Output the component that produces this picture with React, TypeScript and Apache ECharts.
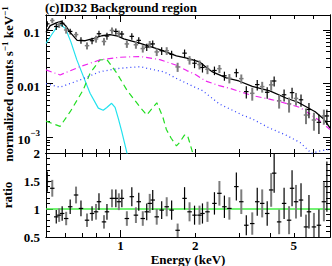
import React, { useEffect, useRef } from "react";
import * as echarts from "echarts";

const FONT = "'Liberation Serif', 'Times New Roman', serif";

// ---------- axis ranges ----------
const E_MIN = 0.5;
const E_MAX = 7;
const FLUX_MIN = 5.1e-4;
const FLUX_MAX = 0.19;
const RATIO_MIN = 0.5;
const RATIO_MAX = 2;

// ---------- ticks ----------
const xMajorTicks = [1];
const xMinorTicks = [0.6, 0.7, 0.8, 0.9, 2, 3, 4, 5, 6];
const xLabelTicks = [1, 2, 5];
const fluxMajorTicks = [0.001, 0.01, 0.1];
const fluxMinorTicks = [
  6e-4, 7e-4, 8e-4, 9e-4, 2e-3, 3e-3, 4e-3, 5e-3, 6e-3, 7e-3, 8e-3, 9e-3,
  0.02, 0.03, 0.04, 0.05, 0.06, 0.07, 0.08, 0.09,
];
const fluxLabelTicks = [0.1, 0.01, 0.001];
const ratioMajorTicks = [0.5, 1, 1.5, 2];
const ratioMinorTicks = [0.6, 0.7, 0.8, 0.9, 1.1, 1.2, 1.3, 1.4, 1.6, 1.7, 1.8, 1.9];
const ratioLabelTicks = [0.5, 1, 1.5, 2];

// ---------- data points (keV, counts/s/keV, ratio) ----------
const energy = [
  0.506, 0.53, 0.55, 0.565, 0.581, 0.603, 0.626, 0.661, 0.692, 0.732,
  0.767, 0.796, 0.818, 0.857, 0.881, 0.923, 0.957, 0.984, 1.012, 1.06,
  1.11, 1.153, 1.184, 1.229, 1.275, 1.311, 1.348, 1.399, 1.465, 1.535,
  1.607, 1.699, 1.812, 1.898, 1.988, 2.082, 2.14, 2.242, 2.392, 2.505,
  2.624, 2.748, 2.932, 3.07, 3.216, 3.399, 3.56, 3.728, 3.905, 4.052,
  4.166, 4.363, 4.569, 4.785, 4.92, 5.105, 5.347, 5.6, 5.757, 6.03,
  6.315, 6.614, 6.8,
];
const flux = [
  0.13, 0.15, 0.116, 0.126, 0.133, 0.1, 0.094, 0.082, 0.064, 0.051,
  0.063, 0.068, 0.085, 0.061, 0.077, 0.098, 0.094, 0.086, 0.084, 0.055,
  0.076, 0.053, 0.064, 0.045, 0.048, 0.054, 0.055, 0.039, 0.041, 0.041,
  0.035, 0.0205, 0.037, 0.0276, 0.024, 0.0227, 0.02, 0.0185, 0.0176, 0.019,
  0.014, 0.0126, 0.016, 0.0124, 0.0071, 0.0066, 0.0096, 0.0088, 0.0069, 0.0095,
  0.0112, 0.0048, 0.0062, 0.0042, 0.0068, 0.0053, 0.005, 0.0026, 0.0033, 0.0021,
  0.0019, 0.0025, 0.0025,
];
const ratio = [
  1.49, 1.37, 0.86, 0.89, 0.92, 0.83, 1.04, 1.25, 1.01, 0.8,
  0.92, 0.95, 1.13, 0.77, 0.95, 1.19, 1.19, 1.13, 1.19, 0.83,
  1.22, 0.89, 1.13, 0.83, 0.95, 1.1, 1.16, 0.86, 0.98, 1.04,
  0.98, 0.62, 1.19, 0.95, 0.89, 0.89, 0.92, 0.95, 1.1, 1.28,
  1.04, 1.01, 1.4, 1.13, 0.71, 0.74, 1.13, 1.1, 0.92, 1.34,
  1.64, 0.77, 1.1, 0.8, 1.37, 1.13, 1.16, 0.68, 0.95, 0.68,
  0.71, 1.13, 1.4,
];
const ratioErr = [
  0.18, 0.15, 0.12, 0.12, 0.13, 0.12, 0.13, 0.15, 0.14, 0.12,
  0.13, 0.14, 0.15, 0.12, 0.14, 0.16, 0.16, 0.15, 0.16, 0.13,
  0.17, 0.14, 0.16, 0.13, 0.15, 0.17, 0.18, 0.14, 0.16, 0.17,
  0.17, 0.12, 0.2, 0.17, 0.17, 0.17, 0.18, 0.18, 0.2, 0.22,
  0.2, 0.2, 0.25, 0.22, 0.18, 0.2, 0.25, 0.25, 0.22, 0.3,
  0.35, 0.22, 0.28, 0.25, 0.32, 0.3, 0.3, 0.22, 0.3, 0.25,
  0.28, 0.35, 0.45,
];
const BIN_HALF_DEX = 0.009;

// ---------- model components ----------
const totalE = [0.5, 0.52, 0.55, 0.575, 0.6, 0.626, 0.668, 0.72, 0.78, 0.84, 0.906, 0.975, 1.03, 1.2, 1.44, 1.68, 1.85, 2.08, 2.22, 2.35, 2.67, 3.0, 3.4, 4.0, 4.65, 5.2, 6.1, 6.6, 7.0];
const totalV = [0.09, 0.12, 0.135, 0.145, 0.12, 0.09, 0.064, 0.063, 0.07, 0.078, 0.082, 0.077, 0.068, 0.056, 0.043, 0.033, 0.03, 0.0255, 0.02, 0.0165, 0.0128, 0.0112, 0.0089, 0.0073, 0.0054, 0.0045, 0.003, 0.0022, 0.0015];

const cyanE = [0.5, 0.53, 0.555, 0.575, 0.6, 0.63, 0.666, 0.708, 0.753, 0.813, 0.851, 0.88, 0.92, 0.95, 0.98, 1.01, 1.06, 1.09];
const cyanV = [0.056, 0.085, 0.115, 0.125, 0.105, 0.06, 0.0277, 0.0135, 0.0066, 0.0035, 0.0032, 0.0036, 0.0043, 0.0036, 0.0022, 0.0013, 0.00052, 0.0003];

const greenE = [0.5, 0.57, 0.626, 0.706, 0.753, 0.826, 0.881, 0.966, 1.06, 1.195, 1.275, 1.4, 1.48, 1.53, 1.6, 1.68, 1.73, 1.81, 1.86, 1.9, 1.95, 2.0];
const greenV = [0.002, 0.0016, 0.003, 0.0076, 0.0156, 0.0277, 0.028, 0.0156, 0.0076, 0.0037, 0.0026, 0.0044, 0.0024, 0.0014, 0.00096, 0.00069, 0.0008, 0.0011, 0.0011, 0.0008, 0.00053, 0.0003];

const magentaE = [0.5, 0.57, 0.686, 0.826, 0.99, 1.2, 1.44, 1.68, 1.85, 2.02, 2.2, 2.5, 2.75, 3.4, 4.1, 4.65, 5.3, 6.3, 7.0];
const magentaV = [0.018, 0.0145, 0.0207, 0.0277, 0.031, 0.032, 0.028, 0.022, 0.0175, 0.0145, 0.0112, 0.0092, 0.0082, 0.006, 0.005, 0.0043, 0.0036, 0.0021, 0.0014];

const blueE = [0.5, 0.57, 0.686, 0.826, 0.99, 1.2, 1.3, 1.5, 1.68, 1.95, 2.14, 2.29, 2.5, 3.1, 3.4, 3.97, 4.65, 5.3, 5.9, 6.3, 7.0];
const blueV = [0.01, 0.0086, 0.0117, 0.0167, 0.0193, 0.0207, 0.019, 0.0165, 0.0125, 0.009, 0.0074, 0.0058, 0.0042, 0.0026, 0.0022, 0.0015, 0.0011, 0.0008, 0.0005, 0.00055, 0.0006];

const unityE = [0.5, 7.0];
const unityV = [1, 1];

const lg = Math.log10;

function crossRenderer(vColor: string, hColor: string, vWidth: number, hWidth: number) {
  return (_params: any, api: any) => {
    const x = api.value(0);
    const y = api.value(1);
    const pLo = api.coord([x, api.value(2)]);
    const pHi = api.coord([x, api.value(3)]);
    const pL = api.coord([api.value(4), y]);
    const pR = api.coord([api.value(5), y]);
    return {
      type: "group",
      children: [
        { type: "line", shape: { x1: pLo[0], y1: pLo[1], x2: pHi[0], y2: pHi[1] }, style: { stroke: vColor, lineWidth: vWidth } },
        { type: "line", shape: { x1: pL[0], y1: pL[1], x2: pR[0], y2: pR[1] }, style: { stroke: hColor, lineWidth: hWidth } },
      ],
    };
  };
}

function buildOption() {
  const xr = [lg(E_MIN), lg(E_MAX)];
  const fr = [lg(FLUX_MIN), lg(FLUX_MAX)];
  const rr = [RATIO_MIN, RATIO_MAX];
  const lineStyle = { color: "#000", width: 1 };
  const labelStyle = { fontFamily: FONT, fontSize: 13, fontWeight: "bold", color: "#000" };
  const supRich = {
    b: { fontFamily: FONT, fontSize: 13, fontWeight: "bold", color: "#000", lineHeight: 18, verticalAlign: "bottom" },
    sup: { fontFamily: FONT, fontSize: 9, fontWeight: "bold", color: "#000", lineHeight: 8, verticalAlign: "top" },
  };
  const nameRich = {
    b: { fontFamily: FONT, fontSize: 13, fontWeight: "bold", color: "#000", lineHeight: 15, verticalAlign: "bottom" },
    sup: { fontFamily: FONT, fontSize: 9, fontWeight: "bold", color: "#000", lineHeight: 7, verticalAlign: "top" },
  };

  const xAxis: any[] = [];
  const yAxis: any[] = [];
  const mk = (grid: number, pos: string, range: number[], ticks: number[], len: number, extra: any = {}) => ({
    type: "value",
    gridIndex: grid,
    position: pos,
    min: range[0],
    max: range[1],
    silent: true,
    splitLine: { show: false },
    axisLine: { show: true, onZero: false, lineStyle },
    axisTick: { show: true, inside: true, length: len, customValues: ticks, lineStyle },
    axisLabel: { show: false },
    nameMoveOverlap: false,
    ...extra,
  });
  const xMaj = xMajorTicks.map(lg);
  const xMin = xMinorTicks.map(lg);
  // grid 0 x axes (0..3)
  xAxis.push(mk(0, "bottom", xr, xMaj, 7));
  xAxis.push(mk(0, "bottom", xr, xMin, 4));
  xAxis.push(mk(0, "top", xr, xMaj, 7));
  xAxis.push(mk(0, "top", xr, xMin, 4));
  // grid 1 x axes (4..7)
  xAxis.push(
    mk(1, "bottom", xr, xMaj, 7, {
      axisLabel: {
        show: true,
        customValues: xLabelTicks.map(lg),
        formatter: (v: number) => String(Math.round(Math.pow(10, v))),
        margin: 2,
        ...labelStyle,
        lineHeight: 12,
      },
      name: "Energy (keV)",
      nameLocation: "middle",
      nameGap: 16,
      nameTextStyle: { ...labelStyle, lineHeight: 12 },
    })
  );
  xAxis.push(mk(1, "bottom", xr, xMin, 4));
  xAxis.push(mk(1, "top", xr, xMaj, 7));
  xAxis.push(mk(1, "top", xr, xMin, 4));

  const fMaj = fluxMajorTicks.map(lg);
  const fMin = fluxMinorTicks.map(lg);
  yAxis.push(
    mk(0, "left", fr, fMaj, 7, {
      axisLabel: {
        show: true,
        customValues: fluxLabelTicks.map(lg),
        formatter: (v: number) => {
          const p = Math.round(v);
          if (p === -1) return "{b|0.1}";
          if (p === -2) return "{b|0.01}";
          return "{b|10}{sup|\u2212" + String(-p) + "}";
        },
        margin: 6,
        ...labelStyle,
        rich: supRich,
      },
      name: "{b|normalized counts s}{sup|\u22121}{b| keV}{sup|\u22121}",
      nameLocation: "middle",
      nameRotate: 90,
      nameGap: 31,
      nameTextStyle: { ...labelStyle, rich: nameRich },
    })
  );
  yAxis.push(mk(0, "left", fr, fMin, 4));
  yAxis.push(mk(0, "right", fr, fMaj, 7));
  yAxis.push(mk(0, "right", fr, fMin, 4));

  yAxis.push(
    mk(1, "left", rr, ratioMajorTicks, 7, {
      axisLabel: {
        show: true,
        customValues: ratioLabelTicks,
        formatter: (v: number) => String(v),
        margin: 6,
        ...labelStyle,
      },
      name: "ratio",
      nameLocation: "middle",
      nameRotate: 90,
      nameGap: 32,
      nameTextStyle: { ...labelStyle, lineHeight: 13 },
    })
  );
  yAxis.push(mk(1, "left", rr, ratioMinorTicks, 4));
  yAxis.push(mk(1, "right", rr, ratioMajorTicks, 7));
  yAxis.push(mk(1, "right", rr, ratioMinorTicks, 4));

  const topBlack: number[][] = [];
  const topGray: number[][] = [];
  const ratBlack: number[][] = [];
  const ratGray: number[][] = [];
  energy.forEach((e, i) => {
    const lx = lg(e);
    const rel = ratioErr[i] / ratio[i];
    const top = [lx, lg(flux[i]), lg(flux[i] * (1 - rel)), lg(flux[i] * (1 + rel)), lx - BIN_HALF_DEX, lx + BIN_HALF_DEX];
    const rat = [lx, ratio[i], ratio[i] - ratioErr[i], ratio[i] + ratioErr[i], lx - BIN_HALF_DEX, lx + BIN_HALF_DEX];
    if (i % 2 === 0) {
      topBlack.push(top);
      ratBlack.push(rat);
    } else {
      topGray.push(top);
      ratGray.push(rat);
    }
  });

  const model = (E: number[], V: number[], color: string, width: number, type: any) => ({
    type: "line",
    xAxisIndex: 0,
    yAxisIndex: 0,
    data: E.map((e, i) => [lg(e), lg(V[i])]),
    showSymbol: false,
    symbol: "none",
    silent: true,
    clip: true,
    lineStyle: { color, width, type },
    z: 3,
  });

  const cross = (data: number[][], grid: number, vColor: string, hColor: string, vW: number, hW: number, z: number) => ({
    type: "custom",
    xAxisIndex: grid * 4,
    yAxisIndex: grid * 4,
    data,
    clip: true,
    silent: true,
    z,
    renderItem: crossRenderer(vColor, hColor, vW, hW),
    encode: { x: 0, y: 1 },
  });

  return {
    animation: false,
    backgroundColor: "#fff",
    title: {
      text: "(c)ID32 Background region",
      left: 45,
      top: 1,
      padding: 0,
      textStyle: { ...labelStyle },
    },
    grid: [
      { left: 46, right: 2, top: 15, height: 138, outerBoundsMode: "none", containLabel: false },
      { left: 46, right: 2, top: 153, height: 84, outerBoundsMode: "none", containLabel: false },
    ],
    xAxis,
    yAxis,
    series: [
      model(cyanE, cyanV, "#22e2ee", 1.2, "solid"),
      model(greenE, greenV, "#22dd22", 1.2, [6, 4]),
      model(magentaE, magentaV, "#ee22ee", 1.2, [6, 3, 1, 3]),
      model(blueE, blueV, "#3344ff", 1.3, [1, 3]),
      cross(topGray, 0, "#7c7c7c", "#7c7c7c", 2, 1.5, 4),
      cross(topBlack, 0, "#000", "#000", 1.2, 1.2, 5),
      model(totalE, totalV, "#000", 1.3, "solid"),
      {
        type: "line",
        xAxisIndex: 4,
        yAxisIndex: 4,
        data: unityE.map((e, i) => [lg(e), unityV[i]]),
        showSymbol: false,
        symbol: "none",
        silent: true,
        lineStyle: { color: "#44ee44", width: 1.5 },
        z: 3,
      },
      cross(ratGray, 1, "#7c7c7c", "#000", 2, 1.2, 4),
      cross(ratBlack, 1, "#000", "#000", 1.2, 1.2, 5),
    ],
  };
}

export default function App() {
  const ref = useRef<HTMLDivElement>(null);
  useEffect(() => {
    if (!ref.current) return;
    const chart = echarts.init(ref.current, null, { renderer: "svg" });
    chart.setOption(buildOption() as any);
    return () => chart.dispose();
  }, []);
  return (
    <div
      ref={ref}
      style={{ position: "fixed", left: 0, top: 0, width: 332, height: 266, background: "#fff" }}
    />
  );
}
